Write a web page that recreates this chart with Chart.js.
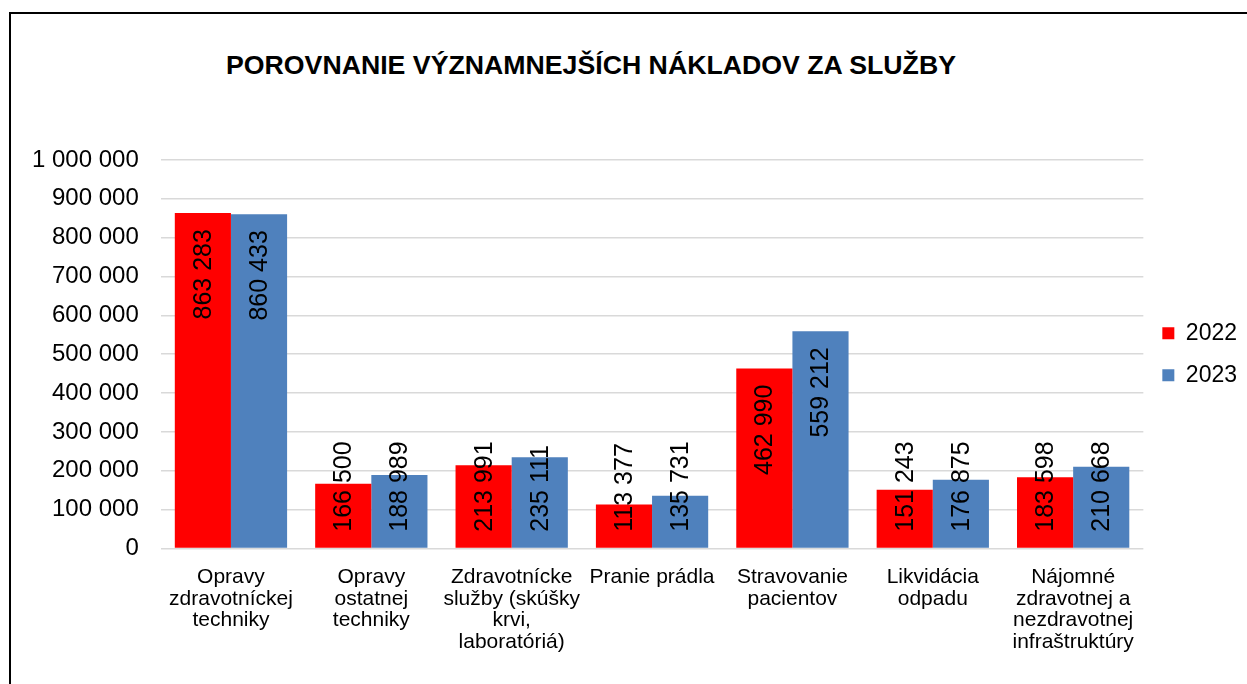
<!DOCTYPE html>
<html lang="sk">
<head>
<meta charset="utf-8">
<title>Porovnanie významnejších nákladov za služby</title>
<script src="https://cdn.jsdelivr.net/npm/chart.js@4.4.1/dist/chart.umd.min.js"></script>
<style>
  html, body { margin: 0; padding: 0; background: #fff; overflow: hidden; }
  #wrap { position: relative; width: 1247px; height: 684px; }
  #frame { position: absolute; left: 9px; top: 12px; right: -4px; bottom: -4px;
           border-left: 2px solid #000; border-top: 2px solid #000; }
  #title { position: absolute; left: 0; top: 50px; width: 1182px; line-height: 30px;
           text-align: center; font: bold 26.7px "Liberation Sans", Arial, sans-serif; color: #000; }
  #box { position: absolute; left: 0; top: 0; width: 1247px; height: 684px; }
</style>
</head>
<body>
<div id="wrap">
  <div id="frame"></div>
  <div id="title">POROVNANIE VÝZNAMNEJŠÍCH NÁKLADOV ZA SLUŽBY</div>
  <div id="box"><canvas id="sluzby"></canvas></div>
</div>
<script>
const FONT = '"Liberation Sans", Arial, sans-serif';

const categories = [
  ['Opravy', 'zdravotníckej', 'techniky'],
  ['Opravy', 'ostatnej', 'techniky'],
  ['Zdravotnícke', 'služby (skúšky', 'krvi,', 'laboratóriá)'],
  'Pranie prádla',
  ['Stravovanie', 'pacientov'],
  ['Likvidácia', 'odpadu'],
  ['Nájomné', 'zdravotnej a', 'nezdravotnej', 'infraštruktúry']
];
const costs2022 = [863283, 166500, 213991, 113377, 462990, 151243, 183598];
const costs2023 = [860433, 188989, 235111, 135731, 559212, 176875, 210668];

// 1 000 000 style thousands separator
const fmt = v => String(v).replace(/\B(?=(\d{3})+(?!\d))/g, ' ');

// vertical value labels inside the bars, pushed down from the bar top
const barValueLabels = {
  id: 'barValueLabels',
  afterDatasetsDraw(chart) {
    const ctx = chart.ctx;
    ctx.save();
    ctx.font = '25px ' + FONT;
    ctx.fillStyle = '#000';
    ctx.textAlign = 'left';
    ctx.textBaseline = 'middle';
    chart.data.datasets.forEach((ds, i) => {
      chart.getDatasetMeta(i).data.forEach((bar, j) => {
        const text = fmt(ds.data[j]);
        const w = ctx.measureText(text).width;
        let end = bar.y + 16 + w;
        if (end > bar.base - 16) end = bar.base - 16;
        ctx.save();
        ctx.translate(bar.x, end);
        ctx.rotate(-Math.PI / 2);
        ctx.fillText(text, 0, 1);
        ctx.restore();
      });
    });
    ctx.restore();
  }
};

new Chart(document.getElementById('sluzby'), {
  type: 'bar',
  data: {
    labels: categories,
    datasets: [
      { label: '2022', data: costs2022, backgroundColor: '#FF0000' },
      { label: '2023', data: costs2023, backgroundColor: '#4F81BD' }
    ]
  },
  options: {
    responsive: true,
    maintainAspectRatio: false,
    animation: false,
    layout: { padding: { left: 10, right: 0, top: 160, bottom: 21 } },
    datasets: { bar: { categoryPercentage: 0.8, barPercentage: 1.0 } },
    plugins: {
      title: { display: false },
      tooltip: { enabled: false },
      legend: {
        position: 'right',
        fullSize: false,
        labels: {
          boxWidth: 12,
          boxHeight: 12,
          padding: 19,
          color: '#000',
          font: { family: FONT, size: 23 }
        }
      }
    },
    scales: {
      x: {
        grid: { display: false },
        border: { display: false },
        ticks: {
          color: '#000',
          padding: 10,
          maxRotation: 0,
          autoSkip: false,
          font: { family: FONT, size: 21, lineHeight: 1.03 }
        }
      },
      y: {
        min: 0,
        max: 1000000,
        border: { display: false },
        grid: { color: '#d9d9d9', lineWidth: 1.5, drawTicks: false },
        ticks: {
          stepSize: 100000,
          color: '#000',
          padding: 22,
          font: { family: FONT, size: 24 },
          callback: v => fmt(v)
        }
      }
    }
  },
  plugins: [barValueLabels]
});
</script>
</body>
</html>
